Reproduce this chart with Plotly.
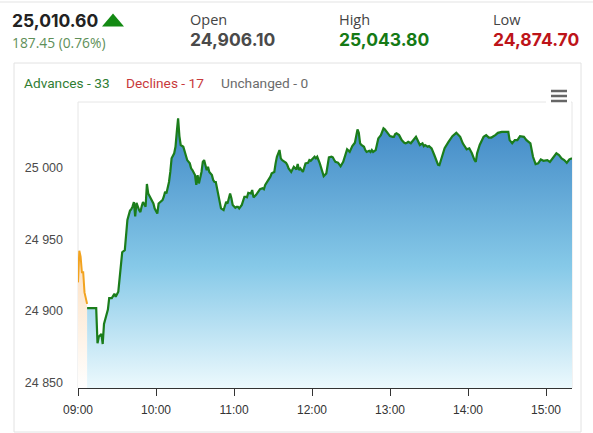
import plotly.graph_objects as go

# ---------------- data ----------------
DAY = "2024-09-02 "
pre_times = ["09:00", "09:01", "09:02", "09:03", "09:04", "09:05", "09:06", "09:07"]
pre_values = [24920, 24942, 24938, 24927, 24927, 24913, 24909, 24905]

times = [
    "09:07", "09:14", "09:15", "09:16", "09:18", "09:19", "09:20", "09:22", "09:23", "09:24",
    "09:26", "09:28", "09:29", "09:31", "09:32", "09:33", "09:34", "09:36", "09:37", "09:38",
    "09:40", "09:41", "09:42", "09:43", "09:44", "09:45", "09:47", "09:48", "09:49", "09:50",
    "09:52", "09:53", "09:54", "09:55", "09:56", "09:58", "09:59", "10:01", "10:02", "10:03",
    "10:05", "10:06", "10:07", "10:08", "10:10", "10:11", "10:12", "10:14", "10:15", "10:16",
    "10:17", "10:18", "10:19", "10:21", "10:22", "10:23", "10:24", "10:26", "10:27", "10:28",
    "10:30", "10:31", "10:32", "10:33", "10:35", "10:36", "10:37", "10:39", "10:40", "10:41",
    "10:43", "10:44", "10:45", "10:46", "10:48", "10:49", "10:50", "10:52", "10:53", "10:54",
    "10:55", "10:57", "10:58", "10:59", "11:01", "11:02", "11:03", "11:04", "11:06", "11:07",
    "11:08", "11:09", "11:10", "11:11", "11:13", "11:14", "11:15", "11:17", "11:18", "11:19",
    "11:20", "11:22", "11:23", "11:24", "11:26", "11:27", "11:28", "11:29", "11:31", "11:32",
    "11:33", "11:35", "11:36", "11:37", "11:39", "11:40", "11:41", "11:42", "11:44", "11:45",
    "11:46", "11:48", "11:49", "11:50", "11:51", "11:53", "11:54", "11:55", "11:57", "11:58",
    "11:59", "12:00", "12:02", "12:03", "12:04", "12:06", "12:07", "12:08", "12:09", "12:11",
    "12:12", "12:13", "12:15", "12:16", "12:17", "12:18", "12:20", "12:21", "12:22", "12:24",
    "12:25", "12:26", "12:27", "12:29", "12:30", "12:31", "12:33", "12:34", "12:35", "12:36",
    "12:37", "12:38", "12:40", "12:41", "12:42", "12:44", "12:45", "12:46", "12:47", "12:49",
    "12:50", "12:51", "12:53", "12:54", "12:55", "12:56", "12:58", "12:59", "13:00", "13:02",
    "13:03", "13:04", "13:05", "13:07", "13:08", "13:09", "13:11", "13:12", "13:13", "13:14",
    "13:16", "13:17", "13:18", "13:20", "13:21", "13:22", "13:23", "13:25", "13:26", "13:27",
    "13:29", "13:30", "13:31", "13:32", "13:34", "13:37", "13:38", "13:40", "13:42", "13:45",
    "13:48", "13:51", "13:54", "13:56", "13:59", "14:01", "14:03", "14:05", "14:06", "14:07",
    "14:09", "14:12", "14:14", "14:16", "14:18", "14:21", "14:23", "14:26", "14:28", "14:31",
    "14:32", "14:34", "14:36", "14:38", "14:40", "14:43", "14:45", "14:48", "14:50", "14:52",
    "14:54", "14:56", "14:58", "15:01", "15:03", "15:06", "15:08", "15:10", "15:12", "15:14",
    "15:16", "15:18", "15:20",
]
values = [
    24902, 24902, 24877.5, 24882, 24884, 24877, 24891, 24899, 24901, 24909,
    24909, 24912, 24910, 24913.5, 24924, 24936, 24941, 24942.5, 24954, 24963.5,
    24970, 24971, 24973, 24976, 24966, 24975.5, 24970.4, 24969, 24973, 24976,
    24972.7, 24988.6, 24982, 24980, 24978, 24975, 24971.5, 24968, 24975, 24976,
    24977.4, 24979.7, 24983.2, 24982, 24990, 24997, 25006.5, 25010, 25014.6, 25025,
    25034.4, 25022, 25015.8, 25014.6, 25011, 25007.6, 25005.3, 25003, 24999.5, 24998.3,
    24994.8, 24988, 24994.8, 24989, 24997, 25004, 25005.3, 24998.3, 25000.6, 24997,
    24994.8, 24991.3, 24990, 24990, 24981, 24974, 24971.6, 24970.4, 24974, 24976.2,
    24975, 24982, 24978.6, 24974, 24972, 24972.7, 24972.7, 24971.6, 24974, 24976.2,
    24979.7, 24979.7, 24979.3, 24982.5, 24982, 24984.4, 24979.3, 24981, 24982.5, 24983.2,
    24985, 24985.6, 24985, 24987.9, 24990.9, 24991.4, 24993.7, 24996, 24997, 25003,
    25007.6, 25012.3, 25006.5, 25005.3, 25004, 25003.4, 25001.8, 24999.5, 24997, 24998.8,
    25000.6, 24998.8, 25002.5, 24998.3, 24999.5, 24997, 24999.5, 25003, 25003.4, 25005.3,
    25004.8, 25005.8, 25007.6, 25006.5, 25007.6, 25003, 24999.5, 24996, 24994.1, 24996,
    25003, 25007.2, 25007.6, 25007.2, 25005.5, 25004, 25003.5, 25002.5, 25001, 25004,
    25006.5, 25010, 25012.8, 25011, 25013.5, 25015, 25017.4, 25021.5, 25026.7, 25024.3,
    25017, 25015.8, 25014.6, 25012.3, 25011, 25011.8, 25010.9, 25012.3, 25011, 25012.3,
    25017, 25020.4, 25022.7, 25025.7, 25027.4, 25026.7, 25024.3, 25023.9, 25022, 25021.5,
    25021.5, 25023.4, 25023.9, 25022.7, 25020.4, 25019.2, 25017.4, 25017, 25017.4, 25018,
    25017, 25018, 25019.7, 25021.5, 25019.7, 25017, 25015.8, 25017, 25015, 25015.8,
    25014.6, 25015, 25014.2, 25013.5, 25009, 25002, 25001.7, 25007.6, 25013.5, 25018,
    25022, 25024.3, 25021.5, 25017, 25012.8, 25013.5, 25010, 25005.3, 25004, 25010,
    25015.8, 25021.5, 25022.7, 25021, 25021, 25022.7, 25024.3, 25025, 25025, 25025,
    25019.2, 25017, 25019.2, 25019.2, 25022, 25021.5, 25019.2, 25017, 25007.6, 25002.5,
    25003, 25005.8, 25004.8, 25005.3, 25004, 25007.6, 25010, 25008.8, 25006.5, 25005.3,
    25003.4, 25005.8, 25006.5,
]

y_ticks = [24850, 24900, 24950, 25000]
y_tick_labels = ["24 850", "24 900", "24 950", "25 000"]
x_ticks = ["09:00", "10:00", "11:00", "12:00", "13:00", "14:00", "15:00"]

last_price = "25,010.60"
change_text = "187.45 (0.76%)"
open_price = "24,906.10"
high_price = "25,043.80"
low_price = "24,874.70"
breadth = [("Advances - 33", "#2f7d32"), ("Declines - 17", "#c8393b"), ("Unchanged - 0", "#6b6b6b")]

Y_MIN, Y_MAX = 24846.3, 25045.8

# ---------------- geometry helpers (pixel -> paper) ----------------
W, H = 593, 433
L, R, T, B = 78, 572, 102, 388


def px(x):
    return (x - L) / (R - L)


def py(y):
    return (B - y) / (B - T)


fig = go.Figure()

fig.add_trace(go.Scatter(
    x=[DAY + t for t in pre_times], y=pre_values, mode="lines",
    line=dict(color="#f2a31f", width=2), fill="tozeroy",
    fillgradient=dict(type="vertical", start=Y_MIN, stop=max(pre_values),
                      colorscale=[[0, "rgba(255,255,255,1)"], [1, "rgba(252,222,190,1)"]]),
    hoverinfo="skip", showlegend=False,
))
fig.add_trace(go.Scatter(
    x=[DAY + t for t in times], y=values, mode="lines",
    line=dict(color="#1b7d1b", width=2.2), fill="tozeroy",
    fillgradient=dict(type="vertical", start=Y_MIN, stop=max(values),
                      colorscale=[[0, "rgba(236,249,253,1)"], [0.45, "#86c9e8"], [1, "#3f87c5"]]),
    hoverinfo="skip", showlegend=False,
))

shapes = []
# top separator line
shapes.append(dict(type="line", xref="paper", yref="paper", x0=px(0), x1=px(W), y0=py(2), y1=py(2),
                   line=dict(color="#e3e3e3", width=1), layer="below"))
# card border
shapes.append(dict(type="rect", xref="paper", yref="paper", x0=px(14), x1=px(581), y0=py(432), y1=py(63),
                   line=dict(color="#e2e2e2", width=1), layer="below"))
# plot border
shapes.append(dict(type="rect", xref="paper", yref="paper", x0=0, x1=1, y0=0, y1=1,
                   line=dict(color="#e6e6e6", width=1), layer="below"))
# hamburger menu
shapes.append(dict(type="rect", xref="paper", yref="paper", x0=px(546), x1=px(571), y0=py(106), y1=py(86),
                   line=dict(width=0), fillcolor="white", layer="above"))
for yy in (91, 96, 101):
    shapes.append(dict(type="line", xref="paper", yref="paper", x0=px(551), x1=px(567), y0=py(yy), y1=py(yy),
                       line=dict(color="#666666", width=2.5), layer="above"))
# up triangle
shapes.append(dict(type="path", xref="paper", yref="paper",
                   path=f"M {px(102)},{py(26.5)} L {px(124)},{py(26.5)} L {px(113)},{py(13.5)} Z",
                   fillcolor="#138a13", line=dict(width=0)))

annotations = []


def txt(x, y, s, size, color, family="Open Sans", bold=False):
    annotations.append(dict(xref="paper", yref="paper", x=px(x), y=py(y), text=f"<b>{s}</b>" if bold else s,
                            showarrow=False, xanchor="left", yanchor="middle",
                            font=dict(family=family, size=size, color=color)))


txt(10, 20, last_price, 17.5, "#222222", family="Inter", bold=True)
txt(10, 42, change_text, 13.8, "#5e8f58")
txt(188, 19.5, "Open", 14.5, "#444444")
txt(188, 39.5, open_price, 17.5, "#4a4a4a", family="Inter", bold=True)
txt(337, 19.5, "High", 14.5, "#444444")
txt(337, 39.5, high_price, 17.5, "#157a15", family="Inter", bold=True)
txt(491, 19.5, "Low", 14.5, "#444444")
txt(491, 39.5, low_price, 17.5, "#bd1419", family="Inter", bold=True)

bx = [22, 124, 219]
for (s, c), x0 in zip(breadth, bx):
    txt(x0, 82.5, s, 13.7, c, family="Roboto")

fig.update_layout(
    width=W, height=H,
    margin=dict(l=L, r=W - R, t=T, b=H - B),
    paper_bgcolor="white", plot_bgcolor="white",
    shapes=shapes, annotations=annotations,
    xaxis=dict(
        type="date", range=[DAY + "09:00", DAY + times[-1]],
        tickvals=[DAY + t for t in x_ticks], ticktext=x_ticks,
        showgrid=False, zeroline=False,
        showline=True, linecolor="#333333", linewidth=1,
        ticks="outside", ticklen=7, tickcolor="#333333",
        tickfont=dict(family="Liberation Sans, Arial", size=12, color="#333333"),
        ticklabelstandoff=4, fixedrange=True,
    ),
    yaxis=dict(
        range=[Y_MIN, Y_MAX], tickvals=y_ticks, ticktext=y_tick_labels,
        showgrid=False, zeroline=False, showline=False, ticks="",
        tickfont=dict(family="Liberation Sans, Arial", size=12.5, color="#4a4a4a"),
        ticklabelstandoff=14, fixedrange=True,
    ),
)

fig.write_html("out.html", config={"displayModeBar": False},
               post_script="document.body.style.margin='0';document.body.style.overflow='hidden';")
